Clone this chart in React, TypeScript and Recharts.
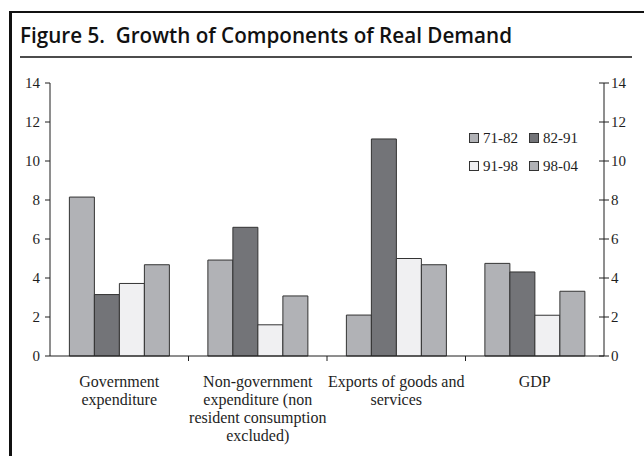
import React from 'react';
import { ComposedChart, Bar, Line, XAxis, YAxis, Legend } from 'recharts';

const categories = ['Government expenditure', 'Non-government expenditure (non resident consumption excluded)', 'Exports of goods and services', 'GDP'];
const tickLabels = [
    ['Government', 'expenditure'],
    ['Non-government', 'expenditure (non', 'resident consumption', 'excluded)'],
    ['Exports of goods and', 'services'],
    ['GDP'],
];
const p7182 = [8.15, 4.92, 2.1, 4.75];
const p8291 = [3.15, 6.6, 11.13, 4.31];
const p9198 = [3.72, 1.6, 5.0, 2.09];
const p9804 = [4.68, 3.08, 4.68, 3.32];
const yTicks = [0, 2, 4, 6, 8, 10, 12, 14];

const series = [
    { key: 'p7182', name: '71-82', color: '#b1b2b6' },
    { key: 'p8291', name: '82-91', color: '#737478' },
    { key: 'p9198', name: '91-98', color: '#f0f0f2' },
    { key: 'p9804', name: '98-04', color: '#b1b2b6' },
];

const data = categories.map((name, i) => ({
    name,
    p7182: p7182[i],
    p8291: p8291[i],
    p9198: p9198[i],
    p9804: p9804[i],
}));

const W = 644;
const H = 456;
const LEFT_W = 50;
const RIGHT_W = 40;
const BAND = (W - LEFT_W - RIGHT_W) / categories.length;
const SERIF = '"Liberation Serif", "DejaVu Serif", serif';
const INK = '#1e1e1e';

const XTick = (props: any) => {
    const { x, y, index } = props;
    const lines = tickLabels[index] || [];
    return (
        <g>
            {index < categories.length - 1 && (
                <line x1={x + BAND / 2} x2={x + BAND / 2} y1={y} y2={y + 5} stroke={INK} strokeWidth={1} />
            )}
            <text textAnchor="middle" fontFamily={SERIF} fontSize={16} fill={INK}>
                {lines.map((l, i) => (
                    <tspan key={i} x={x} y={y + 31 + i * 18}>{l}</tspan>
                ))}
            </text>
        </g>
    );
};

const LeftTick = (props: any) => {
    const { x, y, payload } = props;
    return (
        <text x={x} y={y} dy="0.355em" textAnchor="end" fontFamily={SERIF} fontSize={15} fill={INK}>
            {payload.value}
        </text>
    );
};

const RightTick = (props: any) => {
    const { x, y, payload } = props;
    return (
        <g>
            <line x1={x - 12} x2={x - 2} y1={y} y2={y} stroke={INK} strokeWidth={1} />
            <text x={x} y={y} dy="0.355em" textAnchor="start" fontFamily={SERIF} fontSize={15} fill={INK}>
                {payload.value}
            </text>
        </g>
    );
};

const renderLegend = () => (
    <div style={{ display: 'grid', gridTemplateColumns: '60px 60px', rowGap: 12 }}>
        {series.map(s => (
            <div key={s.key} style={{ display: 'flex', alignItems: 'center', height: 16 }}>
                <span style={{ width: 8, height: 8, background: s.color, border: '1px solid #333', marginRight: 4 }} />
                <span style={{ fontFamily: SERIF, fontSize: 15, lineHeight: '16px', color: INK }}>{s.name}</span>
            </div>
        ))}
    </div>
);

const App: React.FC = () => {
    return (
        <div style={{ position: 'absolute', left: 0, top: 0, width: W, height: H, overflow: 'hidden', background: '#fff' }}>
            <div style={{ position: 'absolute', left: 9, top: 11, width: 700, height: 500, borderLeft: '3px solid #111', borderTop: '2px solid #111' }} />
            <svg width={W} height={70} style={{ position: 'absolute', left: 0, top: 0 }}>
                <text x={20} y={43} fontFamily='"Open Sans", "Noto Sans", sans-serif' fontWeight={600} fontSize={22} fill="#111" textLength={492} lengthAdjust="spacingAndGlyphs">
                    Figure 5.{'\u00a0\u00a0'}Growth of Components of Real Demand
                </text>
                <line x1={20} x2={632} y1={57} y2={57} stroke="#111" strokeWidth={1.5} />
            </svg>
            <div style={{ position: 'absolute', left: 0, top: 0 }}>
                <ComposedChart width={W} height={H} data={data} margin={{ top: 83, right: 0, left: 0, bottom: 0 }} barCategoryGap="14%" barGap={0}>
                    <XAxis dataKey="name" height={100} interval={0} tickSize={0} tickMargin={0} tickLine={false} tick={<XTick />} axisLine={{ stroke: INK }} />
                    <YAxis yAxisId="left" width={LEFT_W} domain={[0, 14]} ticks={yTicks} interval={0} tickSize={5} tickMargin={5} axisLine={{ stroke: INK }} tickLine={{ stroke: INK }} tick={<LeftTick />} />
                    <YAxis yAxisId="right" orientation="right" width={RIGHT_W} domain={[0, 14]} ticks={yTicks} interval={0} tickSize={5} tickMargin={2} axisLine={{ stroke: INK }} tickLine={false} tick={<RightTick />} />
                    {series.map(s => (
                        <Bar key={s.key} yAxisId="left" dataKey={s.key} name={s.name} fill={s.color} stroke="#333" strokeWidth={1} isAnimationActive={false} />
                    ))}
                    <Line yAxisId="right" dataKey="p8291" stroke="none" dot={false} activeDot={false} legendType="none" isAnimationActive={false} />
                    <Legend layout="horizontal" verticalAlign="middle" align="center" content={renderLegend} wrapperStyle={{ left: 469, top: 130, width: 130 }} />
                </ComposedChart>
            </div>
        </div>
    );
};

export default App;
